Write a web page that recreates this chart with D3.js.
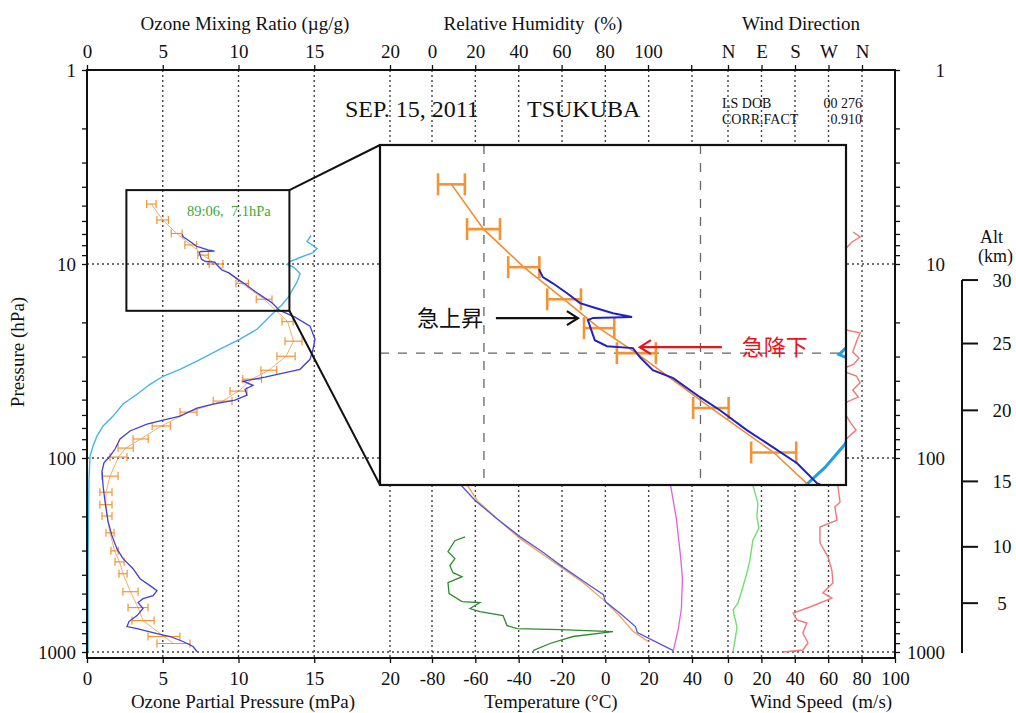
<!DOCTYPE html>
<html>
<head>
<meta charset="utf-8">
<script src="https://cdn.jsdelivr.net/npm/d3@7/dist/d3.min.js"></script>
<style>
  body { margin: 0; background: #fff; }
  text { font-family: "Liberation Serif", "Times New Roman", serif; fill: #111; }
</style>
</head>
<body>
<svg id="chart" width="1016" height="713"></svg>
<script>
// ---- data ----
// ozonesonde partial pressure (mPa) vs pressure (hPa)
const sondeP  = [7.02,7.26,7.45,7.77,8.10,8.24,8.45,8.59,8.62,8.70,9.47,9.71,9.79,10.17,10.74,11.11,12.04,12.72,13.83,14.86,15.90,17.30,18.8,20.9,24.4,27.5,31.0,34.9,36.5,38.3,40.2,42.2,44.2,47.4,50.3,52.7,55.3,60.8,63.8,66.9,72.6,79.8,89.9,97.7,106,117,139,168,213,252,294,330,372,419,455,483,512,531,556,597,649,697,739,757,804,832,883,937,994];
const sondeO3 = [6.27,6.36,6.59,6.92,7.22,7.52,7.98,8.42,7.52,7.40,7.56,7.84,8.44,8.60,8.90,9.37,9.99,10.45,11.07,11.67,12.23,12.69,13.73,14.72,15.05,14.92,14.72,14.06,12.94,11.75,10.3,10.96,10.43,10.56,9.77,8.32,7.26,6.14,5.02,3.96,2.84,2.18,1.85,1.52,1.12,0.99,1.06,1.19,1.39,1.65,1.98,2.38,3.04,3.5,4.16,4.62,4.36,3.7,3.37,3.7,3.3,2.77,2.64,3.3,4.62,5.48,6.34,7.0,7.26];

// reference profile with error bars (mPa)
const refP   = [4.91,5.93,6.96,7.97,9.0,10.0,12.6,15.2,19.8,25.0,29.9,35.3,39.2,45.2,50.9,58.0,68.4,79.8,88.9,98.9,124,150,174,199,243,301,343,395,489,590,689,832,904];
const refO3  = [4.25,4.99,5.92,6.85,7.66,8.52,10.24,11.69,13.24,13.63,13.14,12.0,10.9,10.0,8.95,6.7,4.9,3.54,2.55,2.08,1.52,1.25,1.25,1.32,1.52,1.82,2.15,2.38,2.87,3.37,3.7,5.08,5.71];
const refErr = [0.31,0.38,0.36,0.39,0.35,0.45,0.41,0.52,0.37,0.56,0.6,0.52,0.62,0.56,0.62,0.56,0.6,0.5,0.5,0.56,0.53,0.4,0.4,0.33,0.27,0.24,0.3,0.27,0.5,0.66,0.73,1.05,1.09];

// ozone mixing ratio (ug/g)
const mixP   = [7.13,7.66,8.03,8.33,8.73,9.26,9.71,10.06,10.4,11.2,12.4,13.7,14.7,16.2,17.3,18.6,21.7,24.4,27.5,31.7,34.9,37.9,41.7,46.9,52.7,60.8,68.4,77.1,86.8,97.7,128,330,1000];
const mixVal = [14.79,14.52,14.92,15.18,14.92,14.06,13.4,13.2,13.66,14.06,13.86,13.53,13.33,12.87,12.48,12.08,11.22,10.1,8.78,7.26,6.14,5.02,4.16,3.3,2.38,1.72,1.06,0.66,0.4,0.2,0.13,0.07,0.07];

// temperature (deg C): sonde, second sensor, pump box
const tempP    = [100,128,166,206,255,304,363,434,506,550,634,739,794,884,983];
const tempVal  = [-74,-69.3,-60.0,-49.9,-39.3,-29.1,-19.9,-9.7,-0.9,0,6.9,13.9,14.8,23.1,31.4];
const temp2P   = [100,128,166,208,261,315,372,444,550,657,785,884];
const temp2Val = [-72,-65.6,-59.1,-49.4,-39.3,-28.6,-19.4,-9.7,0,6.9,12.9,19.9];
const pumpP    = [120,136,206,312,419,597,757,983];
const pumpVal  = [29.5,30.0,32.8,34.6,35.6,35.1,33.7,31.4];

// relative humidity (%)
const rhP   = [255,267,304,330,359,390,409,439,500,550,556,597,619,649,731,757,766,785,832,904,983];
const rhVal = [15.3,10.6,7.4,10.6,8.3,9.7,13.9,7.4,7.9,13.9,22.2,17.6,22.2,32.9,34.7,39.4,59.3,83.8,65.3,54.6,46.8];

// wind speed (m/s) and direction (deg)
const wsP   = [100,138,171,201,230,265,336,392,462,559,608,744,868,1000];
const wsVal = [15,14.9,17.9,17.3,18.5,14.9,13.1,11.3,8.9,6.0,3.0,5.4,4.2,3.0];
const wdP   = [6.84,7.26,7.7,8.99,15.3,21.5,22.7,24.6,28.4,30.5,32.8,35.2,37.8,41.0,44.6,48.5,53.3,66.1,71.8,85.7,115,138,169,179,209,227,274,324,378,441,496,527,586,630,684,709,798,899,977,1000];
const wdVal = [336,355,333,300,290,300,355,347,335,352,338,300,345,355,335,350,300,330,344,300,288,295,301,287,293,247,247,269,279,282,255,279,220,175,185,212,201,215,201,148];

// axis ticks
const ozTicks   = [0,5,10,15,20];
const rhTicks   = [0,20,40,60,80,100,120];
const tTicks    = [-80,-60,-40,-20,0,20,40];
const dirTicks  = [0,90,180,270,360];
const dirLabels = ["N","E","S","W","N"];
const wsTicks   = [0,20,40,60,80,100];
const pMajor    = [1,10,100,1000];
const altKm     = [30,25,20,15,10,5];
const altP      = [12.1,25.7,56.8,132,287,560];

// zoomed window (ozone mPa, pressure hPa)
const zoomO3 = [2.6,13.36];
const zoomP  = [4.16,17.43];

const notes = [
  {text:"急上昇", color:"#111", p:8.63, o3:7.17, dir:-1},
  {text:"急降下", color:"#e8141c", p:9.75, o3:8.6, dir:1}
];

// ---- scales ----
const svg = d3.select("#chart");
const L = 87, R = 895, T = 70, B = 658;

const y    = d3.scaleLog().domain([1,1000]).range([70,652]);
const xOz  = d3.scaleLinear().domain([0,20]).range([87,390]);
const xRH  = d3.scaleLinear().domain([0,100]).range([432,648]);
const xT   = d3.scaleLinear().domain([-80,40]).range([432,692]);
const xDir = d3.scaleLinear().domain([0,360]).range([728,862]);
const xWS  = d3.scaleLinear().domain([0,100]).range([728,895]);

const ix = d3.scaleLinear().domain(zoomO3).range([380,846]);
const iy = d3.scaleLog().domain(zoomP).range([145,485]);

const plain = d => String(d);

function path(ps, vs, xs, ys) {
  return d3.line()(ps.map((p,i) => [xs(vs[i]), ys(p)]));
}

svg.append("defs").append("clipPath").attr("id","mainclip")
  .append("rect").attr("x",L).attr("y",T).attr("width",R-L).attr("height",B-T);
svg.select("defs").append("clipPath").attr("id","insetclip")
  .append("rect").attr("x",380).attr("y",145).attr("width",466).attr("height",340);

// ---- grid ----
const grid = svg.append("g").attr("stroke","#444").attr("stroke-width",1.4).attr("stroke-dasharray","2,3");
const vx = ozTicks.slice(1).map(xOz).concat(tTicks.map(xT), dirTicks.map(xDir));
vx.forEach(x => grid.append("line").attr("x1",x).attr("x2",x).attr("y1",T).attr("y2",B));
[10,100,1000].forEach(p => grid.append("line").attr("x1",L).attr("x2",R).attr("y1",y(p)).attr("y2",y(p)));

// ---- axes ----
function styleAxis(g, size) {
  g.select(".domain").remove();
  g.selectAll(".tick line").attr("stroke","#111").attr("stroke-width",1.3);
  g.selectAll("text").style("font-family","Liberation Serif").style("font-size",size+"px").attr("fill","#111");
}
svg.append("g").attr("transform",`translate(0,${T})`)
  .call(d3.axisTop(xOz).tickValues(ozTicks).tickSize(5).tickPadding(7).tickFormat(plain)).call(styleAxis,19);
svg.append("g").attr("transform",`translate(0,${T})`)
  .call(d3.axisTop(xRH).tickValues(rhTicks).tickSize(5).tickPadding(7).tickFormat(d => d > 100 ? "" : d)).call(styleAxis,19);
svg.append("g").attr("transform",`translate(0,${T})`)
  .call(d3.axisTop(xDir).tickValues(dirTicks).tickSize(5).tickPadding(7).tickFormat((d,i) => dirLabels[i])).call(styleAxis,19);
svg.append("g").attr("transform",`translate(0,${B})`)
  .call(d3.axisBottom(xOz).tickValues(ozTicks).tickSize(5).tickPadding(9).tickFormat(plain)).call(styleAxis,19);
svg.append("g").attr("transform",`translate(0,${B})`)
  .call(d3.axisBottom(xT).tickValues(tTicks).tickSize(5).tickPadding(9).tickFormat(plain)).call(styleAxis,19);
svg.append("g").attr("transform",`translate(0,${B})`)
  .call(d3.axisBottom(xWS).tickValues(wsTicks).tickSize(5).tickPadding(9).tickFormat(plain)).call(styleAxis,19);

const pTicks = [];
[1,10,100].forEach(d => { for (let k = 1; k < 10; k++) pTicks.push(d*k); });
pTicks.push(1000);
const fmtP = d => pMajor.includes(d) ? d : "";
svg.append("g").attr("transform",`translate(${L},0)`)
  .call(d3.axisLeft(y).tickValues(pTicks).tickSize(5).tickPadding(6).tickFormat(fmtP)).call(styleAxis,19);
svg.append("g").attr("transform",`translate(${R},0)`)
  .call(d3.axisRight(y).tickValues(pTicks).tickSize(5).tickFormat(fmtP)).call(styleAxis,19)
  .selectAll("text").attr("text-anchor","end").attr("x",50);

// axis titles
const titles = [
  {t:"Ozone Mixing Ratio (µg/g)", x:245, y:30},
  {t:"Relative Humidity  (%)", x:533, y:30},
  {t:"Wind Direction", x:801, y:30},
  {t:"Ozone Partial Pressure (mPa)", x:243, y:708},
  {t:"Temperature (°C)", x:551, y:708},
  {t:"Wind Speed  (m/s)", x:821, y:708}
];
svg.selectAll(".atitle").data(titles).enter().append("text")
  .attr("x",d => d.x).attr("y",d => d.y).attr("text-anchor","middle")
  .style("font-size","19px").style("white-space","pre").text(d => d.t);
svg.append("text").attr("transform","translate(24,352) rotate(-90)").attr("text-anchor","middle")
  .style("font-size","19px").text("Pressure (hPa)");

// header texts
svg.append("text").attr("x",345).attr("y",117).style("font-size","24px").text("SEP. 15, 2011");
svg.append("text").attr("x",527).attr("y",117).style("font-size","24px").text("TSUKUBA");
svg.append("text").attr("x",722).attr("y",108).style("font-size","14px").text("LS DOB");
svg.append("text").attr("x",862).attr("y",108).attr("text-anchor","end").style("font-size","14px").text("00 276");
svg.append("text").attr("x",722).attr("y",124).style("font-size","14px").text("CORR.FACT");
svg.append("text").attr("x",862).attr("y",124).attr("text-anchor","end").style("font-size","14px").text("0.910");

// ---- main profiles ----
const plot = svg.append("g").attr("clip-path","url(#mainclip)").attr("fill","none");
plot.append("path").attr("d",path(mixP,mixVal,xOz,y)).attr("stroke","#45b4ea").attr("stroke-width",1.4);
plot.append("path").attr("d",path(temp2P,temp2Val,xT,y)).attr("stroke","#f0a050").attr("stroke-width",1.3);
plot.append("path").attr("d",path(tempP,tempVal,xT,y)).attr("stroke","#5656e0").attr("stroke-width",1.3);
plot.append("path").attr("d",path(pumpP,pumpVal,xT,y)).attr("stroke","#e060e0").attr("stroke-width",1.3);
plot.append("path").attr("d",path(rhP,rhVal,xRH,y)).attr("stroke","#2e8b2e").attr("stroke-width",1.3);
plot.append("path").attr("d",path(wsP,wsVal,xWS,y)).attr("stroke","#70e070").attr("stroke-width",1.4);
plot.append("path").attr("d",path(wdP,wdVal,xDir,y)).attr("stroke","#f07878").attr("stroke-width",1.4);

function refProfile(g, xs, ys, cap, sw) {
  g.append("path").attr("d",path(refP,refO3,xs,ys)).attr("stroke","#f08c30").attr("stroke-width",sw*0.6);
  const bars = g.selectAll(null).data(refP).enter().append("g").attr("stroke","#f39434").attr("stroke-width",sw);
  bars.append("line").attr("x1",(p,i) => xs(refO3[i]-refErr[i])).attr("x2",(p,i) => xs(refO3[i]+refErr[i]))
    .attr("y1",p => ys(p)).attr("y2",p => ys(p));
  bars.append("line").attr("x1",(p,i) => xs(refO3[i]-refErr[i])).attr("x2",(p,i) => xs(refO3[i]-refErr[i]))
    .attr("y1",p => ys(p)-cap).attr("y2",p => ys(p)+cap);
  bars.append("line").attr("x1",(p,i) => xs(refO3[i]+refErr[i])).attr("x2",(p,i) => xs(refO3[i]+refErr[i]))
    .attr("y1",p => ys(p)-cap).attr("y2",p => ys(p)+cap);
}
refProfile(plot, xOz, y, 4, 1.2);
plot.append("path").attr("d",path(sondeP,sondeO3,xOz,y)).attr("stroke","#4040d4").attr("stroke-width",1.3);

svg.append("text").attr("x",187).attr("y",216).style("fill","#3aaa3a")
  .style("font-size","14.5px").style("white-space","pre").text("89:06,  7.1hPa");

// frame
svg.append("rect").attr("x",L).attr("y",T).attr("width",R-L).attr("height",B-T)
  .attr("fill","none").attr("stroke","#111").attr("stroke-width",2);

// ---- altitude scale ----
const alt = svg.append("g");
alt.append("line").attr("x1",962).attr("x2",962).attr("y1",y(altP[0])).attr("y2",y(1000)+1)
  .attr("stroke","#111").attr("stroke-width",2);
alt.selectAll(null).data(altP).enter().append("line")
  .attr("x1",962).attr("x2",978).attr("y1",d => y(d)).attr("y2",d => y(d))
  .attr("stroke","#111").attr("stroke-width",2);
alt.selectAll(null).data(altP).enter().append("text")
  .attr("x",1002).attr("y",d => y(d)).attr("dy","0.35em").attr("text-anchor","middle")
  .style("font-size","19px").text((d,i) => altKm[i]);
alt.append("text").attr("x",980).attr("y",243).style("font-size","18px").text("Alt");
alt.append("text").attr("x",978).attr("y",262).style("font-size","18px").text("(km)");

// ---- zoom box + connectors ----
const zx0 = xOz(zoomO3[0]), zx1 = xOz(zoomO3[1]), zy0 = y(zoomP[0]), zy1 = y(zoomP[1]);
svg.append("rect").attr("x",zx0).attr("y",zy0).attr("width",zx1-zx0).attr("height",zy1-zy0)
  .attr("fill","none").attr("stroke","#111").attr("stroke-width",2);
svg.append("line").attr("x1",zx1).attr("y1",zy0).attr("x2",380).attr("y2",145).attr("stroke","#111").attr("stroke-width",2);
svg.append("line").attr("x1",zx1).attr("y1",zy1).attr("x2",380).attr("y2",485).attr("stroke","#111").attr("stroke-width",2);

// ---- inset ----
svg.append("rect").attr("x",380).attr("y",145).attr("width",466).attr("height",340).attr("fill","#fff");
const ins = svg.append("g").attr("clip-path","url(#insetclip)").attr("fill","none");
const ig = ins.append("g").attr("stroke","#666").attr("stroke-width",1.3).attr("stroke-dasharray","9,9");
[5,10].forEach(v => ig.append("line").attr("x1",ix(v)).attr("x2",ix(v)).attr("y1",145).attr("y2",485));
ig.append("line").attr("x1",380).attr("x2",846).attr("y1",iy(10)).attr("y2",iy(10));
ins.append("path").attr("d",path(mixP,mixVal,ix,iy)).attr("stroke","#1ea0e6").attr("stroke-width",3);
refProfile(ins, ix, iy, 11, 2.6);
ins.append("path").attr("d",path(sondeP,sondeO3,ix,iy)).attr("stroke","#2222c4").attr("stroke-width",2);

notes.forEach(n => {
  const tx = ix(n.o3), ty = iy(n.p);
  const tail = tx + n.dir * 82;
  const g = ins.append("g").attr("stroke",n.color).attr("stroke-width",2.2);
  g.append("line").attr("x1",tail).attr("x2",tx).attr("y1",ty).attr("y2",ty);
  g.append("polyline").attr("points",`${tx + n.dir*11},${ty-7} ${tx},${ty} ${tx + n.dir*11},${ty+7}`);
  ins.append("text").attr("x",n.dir < 0 ? tail - 13 : tail + 20).attr("y",ty).attr("dy","0.36em")
    .attr("text-anchor",n.dir < 0 ? "end" : "start")
    .style("font-family","Noto Sans CJK JP").style("font-size","22px").style("fill",n.color).text(n.text);
});
svg.append("rect").attr("x",380).attr("y",145).attr("width",466).attr("height",340)
  .attr("fill","none").attr("stroke","#111").attr("stroke-width",2.2);
</script>
</body>
</html>
